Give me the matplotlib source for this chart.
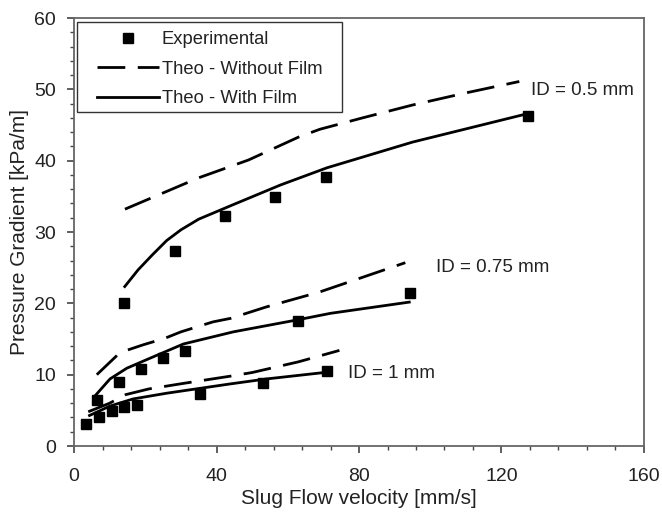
import numpy as np
import matplotlib
matplotlib.use("Agg")
import matplotlib.pyplot as plt
from matplotlib.ticker import MultipleLocator
from matplotlib.patches import Rectangle

plt.rcParams['font.family'] = ['Liberation Sans', 'DejaVu Sans']

# experimental points, per tube diameter
exp_x_05 = [14.0, 28.4, 42.5, 56.5, 70.8, 127.4]
exp_y_05 = [20.0, 27.3, 32.3, 34.9, 37.7, 46.2]
exp_x_075 = [6.4, 12.6, 18.8, 25.1, 31.2, 63.0, 94.3]
exp_y_075 = [6.4, 9.0, 10.8, 12.3, 13.3, 17.5, 21.5]
exp_x_1 = [3.4, 7.1, 10.6, 14.0, 17.6, 35.4, 53.1, 70.9]
exp_y_1 = [3.1, 4.1, 4.9, 5.4, 5.8, 7.3, 8.8, 10.5]

# theory, with liquid film
film_x_05 = [14.0, 18.0, 22.0, 26.0, 30.0, 35.0, 45.0, 58.0, 71.0, 95.0, 127.4]
film_y_05 = [22.2, 24.7, 26.8, 28.8, 30.3, 31.8, 33.9, 36.6, 39.0, 42.6, 46.6]
film_x_075 = [5.5, 10.1, 14.8, 21.3, 30.7, 44.7, 62.9, 72.0, 94.5]
film_y_075 = [6.8, 9.4, 10.9, 12.3, 14.3, 16.0, 17.7, 18.6, 20.2]
film_x_1 = [4.0, 10.1, 16.6, 26.0, 43.8, 54.0, 72.0]
film_y_1 = [4.2, 5.6, 6.6, 7.4, 8.7, 9.4, 10.4]

# theory, without film
nofilm_x_05 = [14.3, 35.0, 49.0, 63.0, 69.0, 81.0, 95.0, 110.0, 125.0]
nofilm_y_05 = [33.2, 37.6, 40.1, 43.3, 44.4, 46.0, 47.8, 49.5, 51.1]
nofilm_x_075 = [6.4, 12.5, 13.5, 19.5, 25.5, 30.0, 39.0, 44.0, 54.0, 69.0, 93.0]
nofilm_y_075 = [10.0, 12.9, 13.2, 14.2, 15.1, 16.0, 17.4, 17.9, 19.5, 21.6, 25.7]
nofilm_x_1 = [4.0, 10.0, 14.5, 21.0, 31.0, 44.0, 50.0, 63.0, 74.5]
nofilm_y_1 = [4.8, 6.0, 7.2, 8.0, 8.8, 9.8, 10.3, 11.8, 13.4]

labels = ['ID = 0.5 mm', 'ID = 0.75 mm', 'ID = 1 mm']
label_pos = [(128.3, 49.8), (101.6, 25.0), (76.9, 10.1)]

fig = plt.figure(figsize=(6.62, 5.13), dpi=100)
ax = fig.add_axes([0.1118, 0.1306, 0.861, 0.8343])

dash = (0, (10, 4.5))
lw = 2.0
for x, y in [(nofilm_x_05, nofilm_y_05), (nofilm_x_075, nofilm_y_075), (nofilm_x_1, nofilm_y_1)]:
    ax.plot(x, y, color='black', lw=lw, linestyle=dash)
for x, y in [(film_x_05, film_y_05), (film_x_075, film_y_075), (film_x_1, film_y_1)]:
    ax.plot(x, y, color='black', lw=lw, solid_capstyle='butt')
for x, y in [(exp_x_05, exp_y_05), (exp_x_075, exp_y_075), (exp_x_1, exp_y_1)]:
    ax.plot(x, y, 's', color='black', ms=7.5, zorder=3)

for txt, (tx, ty) in zip(labels, label_pos):
    ax.text(tx, ty, txt, fontsize=13.5, va='center', ha='left', color='#222222')

# legend proxies, frame drawn separately so the padding matches
h1, = ax.plot([], [], 's', color='black', ms=7.5)
h2, = ax.plot([], [], color='black', lw=lw, linestyle=dash)
h3, = ax.plot([], [], color='black', lw=lw)
leg = ax.legend([h1, h2, h3], ['Experimental', 'Theo - Without Film', 'Theo - With Film'],
                loc='upper left', bbox_to_anchor=(0.040, 0.969), borderaxespad=0,
                fontsize=13.2, handlelength=3.4, handletextpad=0.15, labelspacing=0.68,
                borderpad=0, frameon=False)
for t in leg.get_texts():
    t.set_color('#222222')
ax.add_patch(Rectangle((0.005, 0.780), 0.465, 0.211, transform=ax.transAxes,
                       facecolor='white', edgecolor='#333333', lw=1.0, zorder=4))
leg.set_zorder(5)

ax.set_xlim(0, 160)
ax.set_ylim(0, 60)
ax.xaxis.set_major_locator(MultipleLocator(40))
ax.xaxis.set_minor_locator(MultipleLocator(8))
ax.yaxis.set_major_locator(MultipleLocator(10))
ax.yaxis.set_minor_locator(MultipleLocator(2))
ax.tick_params(which='both', direction='out', top=False, right=False, colors='#444444',
               labelcolor='#222222', labelsize=14)
ax.tick_params(which='major', length=5, width=1.2, pad=8)
ax.tick_params(axis='x', which='major', pad=11)
ax.tick_params(which='minor', length=3, width=1.0)
for s in ax.spines.values():
    s.set_color('#666666')
    s.set_linewidth(1.3)

ax.set_xlabel('Slug Flow velocity [mm/s]', fontsize=15, color='#222222', labelpad=3)
ax.set_ylabel('Pressure Gradient [kPa/m]', fontsize=15, color='#222222', labelpad=4)

fig.savefig('out.png', dpi=100)
